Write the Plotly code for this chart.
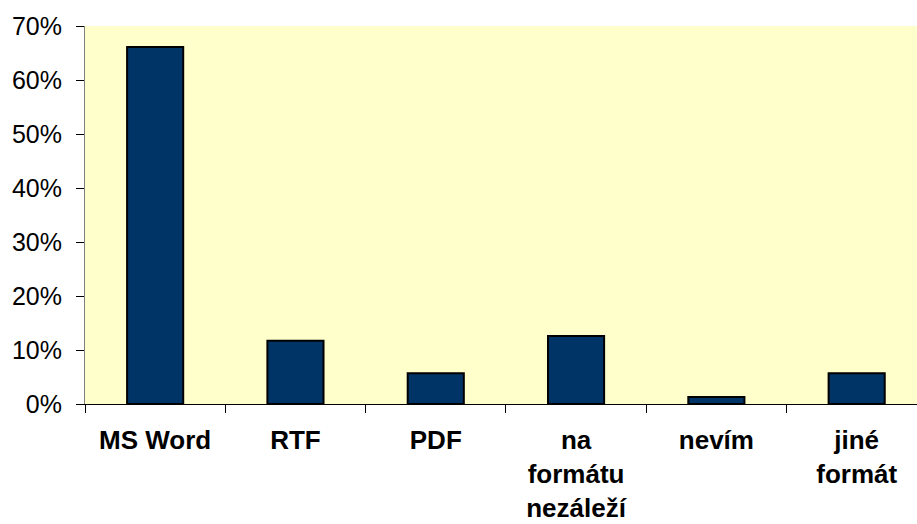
import plotly.graph_objects as go

categories = ["MS Word", "RTF", "PDF", "na<br>formátu<br>nezáleží", "nevím", "jiné<br>formát"]
values = [0.661, 0.117, 0.057, 0.126, 0.013, 0.057]
y_ticks = [0, 0.1, 0.2, 0.3, 0.4, 0.5, 0.6, 0.7]
y_tick_labels = ["0%", "10%", "20%", "30%", "40%", "50%", "60%", "70%"]

fig = go.Figure(go.Bar(
    x=categories, y=values, width=0.4,
    marker=dict(color="#003366", line=dict(color="#000000", width=2)),
))

fig.update_layout(
    width=917, height=524,
    margin=dict(l=85, r=0, t=26, b=120, autoexpand=False),
    paper_bgcolor="white", plot_bgcolor="#FFFFCC",
    font=dict(family="Liberation Sans, Arial", size=25, color="black"),
    showlegend=False,
)
fig.update_xaxes(
    range=[-0.5, 5.43], tickson="boundaries", ticks="outside", ticklen=8,
    tickcolor="#000000", showline=True, linecolor="#000000", linewidth=1,
    tickfont=dict(size=26, family="Liberation Sans, Arial", color="black", weight="bold"),
    ticklabelstandoff=13, showgrid=False, automargin=False,
)
fig.update_yaxes(
    range=[0, 0.7], tickvals=y_ticks, ticktext=y_tick_labels,
    ticks="outside", ticklen=8, tickcolor="#000000",
    showline=True, linecolor="#808080", linewidth=1, showgrid=False,
    tickfont=dict(size=25, color="black"), ticklabelstandoff=9,
    zeroline=False, automargin=False,
)

fig.write_html("out.html", config={"displayModeBar": False},
               post_script="document.body.style.margin='0';")
